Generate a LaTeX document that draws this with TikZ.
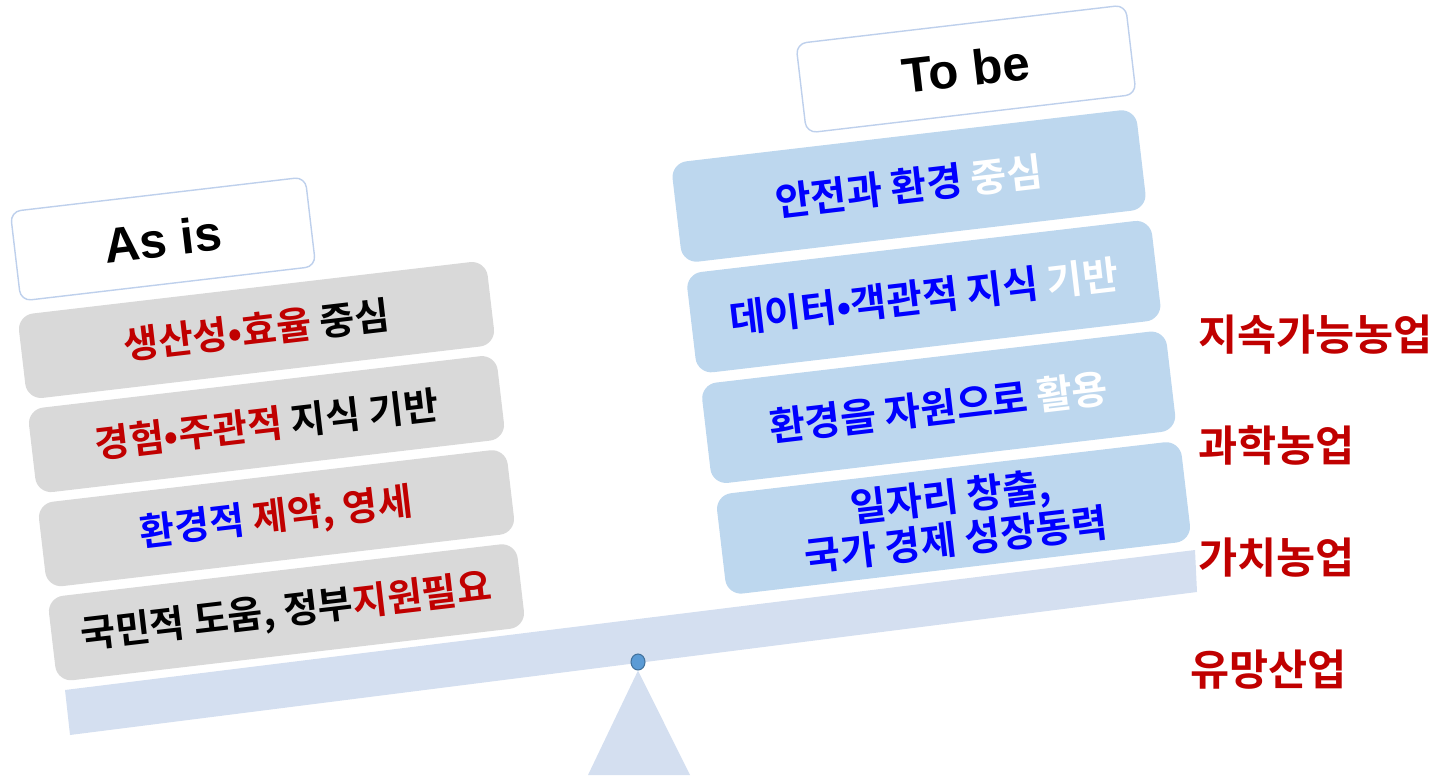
\documentclass[tikz,border=0pt]{standalone}
\usepackage{fontspec}
\setmainfont{Liberation Sans}
\newfontfamily\kr{Noto Sans CJK KR}[BoldFont={Noto Sans CJK KR Bold}]
\usetikzlibrary{positioning,shapes.geometric}

\definecolor{asisfill}{RGB}{217,217,217}
\definecolor{tobefill}{RGB}{189,215,238}
\definecolor{hdrline}{RGB}{190,208,236}
\definecolor{beamfill}{RGB}{212,223,240}
\definecolor{krred}{RGB}{192,0,0}
\definecolor{krblue}{RGB}{0,0,255}
\definecolor{pivotfill}{RGB}{91,155,213}
\definecolor{pivotline}{RGB}{65,113,156}

\begin{document}
\begin{tikzpicture}[
  x=0.02cm,y=0.02cm,
  header/.style ={draw=hdrline,fill=white,line width=0.8pt,rounded corners=6pt,
                  rotate=6.7,minimum height=1.8cm,
                  font=\fontsize{28}{30}\selectfont\bfseries},
  curbox/.style ={fill=asisfill,rounded corners=9pt,rotate=6.7,
                  minimum width=9.44cm,minimum height=1.7cm,align=center,
                  font=\kr\bfseries\fontsize{21.6}{25}\selectfont},
  futbox/.style ={fill=tobefill,rounded corners=9pt,rotate=6.7,
                  minimum width=9.36cm,minimum height=2.02cm,align=center,
                  text=krblue,font=\kr\bfseries\fontsize{22.2}{24.5}\selectfont},
  goal/.style   ={anchor=west,text=krred,
                  font=\kr\bfseries\fontsize{24.2}{28}\selectfont},
  pivot/.style  ={draw=pivotline,fill=pivotfill,ellipse,line width=0.6pt,
                  minimum width=0.28cm,minimum height=0.32cm,inner sep=0pt},
]
\useasboundingbox (0,0) rectangle (1453,775);

%% ======================================================
%% Seesaw: beam, pivot and fulcrum
%% ======================================================
\fill[beamfill] (65,85) -- (70,40) -- (1197,183) -- (1195,225) -- cycle;
\node[pivot] (pivot) at (638,113) {};
\fill[beamfill] (pivot.south) -- (588,0) -- (690,0) -- cycle;

%% --- Headers ---
\node[header,minimum width=5.94cm] (asis) at (163,536) {As is};
\node[header,minimum width=6.64cm] (tobe) at (966,706) {To be};

%% --- As is column (left) ---
\node[curbox] (cur1) at (256.5,445) {\textcolor{krred}{생산성•효율} 중심};
\node[curbox,below=0.18cm of cur1] (cur2) {\textcolor{krred}{경험•주관적} 지식 기반};
\node[curbox,below=0.18cm of cur2] (cur3) {\textcolor{krblue}{환경적} \textcolor{krred}{제약, 영세}};
\node[curbox,below=0.18cm of cur3] (cur4) {국민적 도움, 정부\textcolor{krred}{지원필요}};

%% --- To be column (right) ---
\node[futbox] (fut1) at (909,589) {안전과 환경 \textcolor{white}{중심}};
\node[futbox,below=0.2cm of fut1,xshift=0.06cm] (fut2) {데이터•객관적 지식 \textcolor{white}{기반}};
\node[futbox,below=0.2cm of fut2,xshift=0.06cm] (fut3) {환경을 자원으로 \textcolor{white}{활용}};
\node[futbox,below=0.2cm of fut3,xshift=0.06cm] (fut4) {일자리 창출,\\국가 경제 성장동력};

%% --- Goals ---
\node[goal] (goal1) at (1192,440) {지속가능농업};
\node[goal] (goal2) at (1192,330) {과학농업};
\node[goal] (goal3) at (1192,217) {가치농업};
\node[goal] (goal4) at (1184,105) {유망산업};

\end{tikzpicture}
\end{document}
